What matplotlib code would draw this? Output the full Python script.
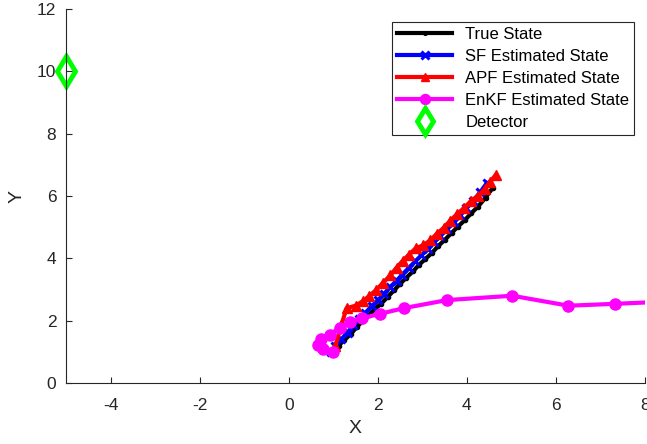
import matplotlib.pyplot as plt

# trajectories (x, y)
true_x = [0.99, 1.12, 1.25, 1.40, 1.53, 1.66, 1.80, 1.94, 2.08, 2.22, 2.37, 2.50, 2.64,
          2.79, 2.93, 3.07, 3.22, 3.36, 3.51, 3.66, 3.80, 3.95, 4.10, 4.25, 4.42, 4.58]
true_y = [1.00, 1.20, 1.38, 1.58, 1.80, 1.98, 2.17, 2.38, 2.55, 2.76, 2.98, 3.18, 3.38,
          3.58, 3.80, 3.98, 4.18, 4.40, 4.60, 4.82, 5.02, 5.22, 5.45, 5.66, 5.95, 6.26]

sf_x = [0.95, 1.05, 1.18, 1.32, 1.45, 1.58, 1.72, 1.86, 2.00, 2.14, 2.28, 2.42, 2.55,
        2.70, 2.84, 2.98, 3.12, 3.26, 3.40, 3.55, 3.70, 3.84, 3.99, 4.14, 4.30, 4.45]
sf_y = [0.98, 1.18, 1.40, 1.62, 1.85, 2.05, 2.25, 2.46, 2.65, 2.86, 3.08, 3.28, 3.48,
        3.70, 3.90, 4.10, 4.30, 4.52, 4.72, 4.95, 5.15, 5.38, 5.60, 5.85, 6.12, 6.42]

apf_x = [1.05, 1.18, 1.30, 1.50, 1.66, 1.80, 1.96, 2.12, 2.28, 2.42, 2.56, 2.70, 2.85,
         3.02, 3.18, 3.32, 3.48, 3.62, 3.78, 3.94, 4.10, 4.25, 4.40, 4.52, 4.65]
apf_y = [1.20, 1.85, 2.40, 2.48, 2.62, 2.78, 2.98, 3.22, 3.45, 3.70, 3.92, 4.12, 4.32,
         4.42, 4.58, 4.78, 4.98, 5.20, 5.42, 5.62, 5.85, 6.00, 6.22, 6.45, 6.68]

enkf_x = [1.00, 0.78, 0.65, 0.72, 0.92, 1.15, 1.38, 1.65, 2.05, 2.58, 3.55, 5.02, 6.28, 7.32, 8.60]
enkf_y = [0.98, 1.08, 1.22, 1.40, 1.55, 1.78, 1.95, 2.08, 2.22, 2.40, 2.66, 2.80, 2.48, 2.54, 2.62]

detector_x = [-5]
detector_y = [10]

plt.rcParams['font.family'] = ['Liberation Sans', 'DejaVu Sans']
plt.rcParams['axes.unicode_minus'] = False

fig = plt.figure(figsize=(6.47, 4.44), dpi=100)
ax = fig.add_axes([0.102, 0.1374, 0.895, 0.8423])

ax.plot(true_x, true_y, color='black', lw=3, marker='.', ms=6, label='True State')
ax.plot(sf_x, sf_y, color='blue', lw=3, marker='x', ms=6, mew=2.2, label='SF Estimated State')
ax.plot(apf_x, apf_y, color='red', lw=3, marker='^', ms=7, label='APF Estimated State')
ax.plot(enkf_x, enkf_y, color='magenta', lw=3, marker='o', ms=8, label='EnKF Estimated State')
ax.plot(detector_x, detector_y, linestyle='none', marker='d', ms=15, mfc='white',
        mec=(0, 1, 0), mew=3.5, label='Detector', clip_on=False, zorder=1)

ax.set_xlim(-5, 8)
ax.set_ylim(0, 12)
ax.set_xticks([-4, -2, 0, 2, 4, 6, 8])
ax.set_yticks([0, 2, 4, 6, 8, 10, 12])
ax.set_xlabel('X', fontsize=14, color='#262626', labelpad=5)
ax.set_ylabel('Y', fontsize=14, color='#262626', labelpad=8)
ax.tick_params(direction='in', labelsize=12.5, colors='#262626', length=4)
ax.tick_params(axis='x', pad=11)
ax.tick_params(axis='y', pad=7)
for s in ['top', 'right']:
    ax.spines[s].set_visible(False)
for s in ['left', 'bottom']:
    ax.spines[s].set_color('#262626')
ax.set_axisbelow(False)

leg = ax.legend(loc='upper right', bbox_to_anchor=(0.996, 0.988), fontsize=12,
                fancybox=False, framealpha=1, edgecolor='#262626',
                handlelength=3.3, borderpad=0.3, labelspacing=0.42, markerscale=0.9)
leg.get_frame().set_linewidth(0.8)

fig.savefig('out.png', dpi=100)
